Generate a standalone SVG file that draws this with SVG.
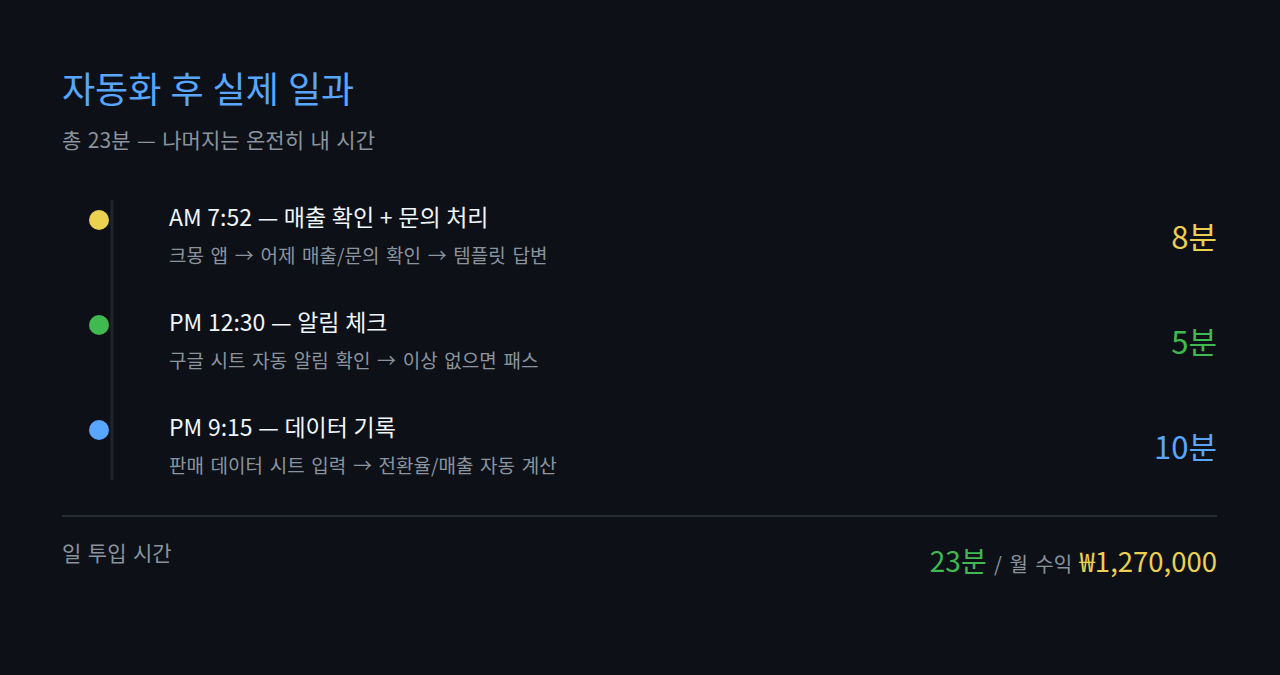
<svg xmlns="http://www.w3.org/2000/svg" width="1280" height="675" viewBox="0 0 1280 675">
<style>
text{font-family:"Noto Sans CJK KR","Noto Sans",sans-serif;}
.title{font-size:36px;fill:#58a6ff;word-spacing:1px;}
.sub{font-size:21px;fill:#8b949e;word-spacing:1.8px;}
.mid{font-size:20px;fill:#8b949e;word-spacing:3px;}
.it{font-size:23px;fill:#f0f6fc;word-spacing:0.5px;}
.desc{font-size:19px;fill:#8b949e;word-spacing:2.4px;}
.val{font-size:31px;text-anchor:end;}
.y{fill:#ecd04f;}
.g{fill:#3fb950;}
.b{fill:#58a6ff;}
</style>
<rect width="1280" height="675" fill="#0d1117"/>
<g id="header">
<text class="title" x="62" y="103">자동화 후 실제 일과</text>
<text class="sub" x="62" y="148">총 23분 — 나머지는 온전히 내 시간</text>
</g>
<g id="connectors">
<line x1="112" y1="200" x2="112" y2="480" stroke="#21262d" stroke-width="3"/>
</g>
<g id="item1">
<circle cx="99" cy="220" r="10" fill="#ecd04f"/>
<text class="it" x="169" y="226">AM 7:52 — 매출 확인 + 문의 처리</text>
<text class="desc" x="169" y="263">크몽 앱 → 어제 매출/문의 확인 → 템플릿 답변</text>
<text class="val y" x="1217" y="249">8분</text>
</g>
<g id="item2">
<circle cx="99" cy="325" r="10" fill="#3fb950"/>
<text class="it" x="169" y="331">PM 12:30 — 알림 체크</text>
<text class="desc" x="169" y="368">구글 시트 자동 알림 확인 → 이상 없으면 패스</text>
<text class="val g" x="1217" y="354">5분</text>
</g>
<g id="item3">
<circle cx="99" cy="430" r="10" fill="#58a6ff"/>
<text class="it" x="169" y="436">PM 9:15 — 데이터 기록</text>
<text class="desc" x="169" y="473">판매 데이터 시트 입력 → 전환율/매출 자동 계산</text>
<text class="val b" x="1217" y="459">10분</text>
</g>
<g id="footer">
<line x1="62" y1="516" x2="1217" y2="516" stroke="#30363d" stroke-width="1.5"/>
<text class="sub" x="62" y="561">일 투입 시간</text>
<text x="1217" y="572" text-anchor="end"><tspan class="g" font-size="28">23분</tspan><tspan class="mid"> / 월 수익 </tspan><tspan class="y" font-size="27.5">₩1,270,000</tspan></text>
</g>
</svg>
